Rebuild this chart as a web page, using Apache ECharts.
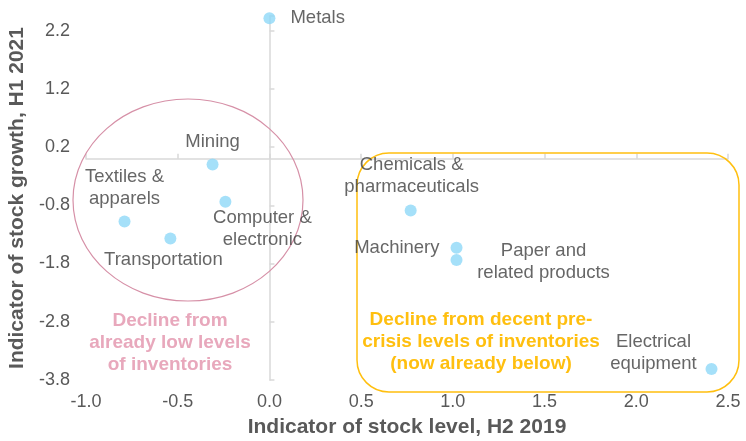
<!DOCTYPE html>
<html>
<head>
<meta charset="utf-8">
<script src="https://cdn.jsdelivr.net/npm/echarts@6/dist/echarts.min.js"></script>
<style>
  html, body { margin: 0; padding: 0; background: #fff; }
  #chart { width: 746px; height: 441px; }
</style>
</head>
<body>
<div id="chart"></div>
<script>
// sectors and their position (x: stock level H2 2019, y: stock growth H1 2021)
var sectors = ['Metals', 'Mining', 'Computer &\nelectronic', 'Textiles &\napparels', 'Transportation',
  'Chemicals &\npharmaceuticals', 'Machinery', 'Paper and\nrelated products', 'Electrical\nequipment'];
var stockLevel = [0.0, -0.31, -0.24, -0.79, -0.54, 0.77, 1.02, 1.02, 2.41];
var stockGrowth = [2.41, -0.10, -0.74, -1.08, -1.37, -0.89, -1.53, -1.74, -3.61];

var xTicks = { min: -1.0, max: 2.5, step: 0.5 };
var yTicks = { min: -3.8, max: 2.45, step: 1 };

// where each label sits relative to its dot
var labelPlace = {
  'Metals': { offset: [21, 0], align: 'left' },
  'Mining': { offset: [0, -23] },
  'Computer &\nelectronic': { offset: [37, 27] },
  'Textiles &\napparels': { offset: [0, -34] },
  'Transportation': { offset: [-7, 21] },
  'Chemicals &\npharmaceuticals': { offset: [1, -35] },
  'Machinery': { offset: [-17, 0], align: 'right' },
  'Paper and\nrelated products': { offset: [87, 2] },
  'Electrical\nequipment': { offset: [-58, -16] }
};

var grey = '#d9d9d9';
var fontFam = '"Liberation Sans", Arial, sans-serif';

var points = sectors.map(function (name, i) {
  var p = labelPlace[name];
  return {
    name: name,
    value: [stockLevel[i], stockGrowth[i]],
    label: {
      show: true,
      position: 'inside',
      offset: p.offset,
      align: p.align || 'center',
      verticalAlign: 'middle',
      formatter: '{b}'
    }
  };
});

var chart = echarts.init(document.getElementById('chart'));
chart.setOption({
  animation: false,
  textStyle: { fontFamily: fontFam },
  grid: { left: 86, right: 18, top: 16, bottom: 61, outerBoundsMode: 'none' },
  xAxis: [
    {
      type: 'value', min: xTicks.min, max: xTicks.max, interval: xTicks.step,
      name: 'Indicator of stock level, H2 2019',
      nameLocation: 'middle', nameGap: 37,
      nameTextStyle: { fontSize: 21, fontWeight: 'bold', color: '#595959', fontFamily: fontFam },
      axisLine: { show: false, onZero: false },
      axisTick: { show: false },
      splitLine: { show: false },
      axisLabel: {
        margin: 13, fontSize: 18, color: '#595959', fontFamily: fontFam,
        formatter: function (v) { return v.toFixed(1); }
      }
    },
    {
      type: 'value', min: xTicks.min, max: xTicks.max, interval: xTicks.step,
      axisLine: { show: true, onZero: true, lineStyle: { color: grey, width: 1.5 } },
      axisTick: { show: true, length: 5, lineStyle: { color: grey, width: 1.5 } },
      axisLabel: { show: false },
      splitLine: { show: false }
    }
  ],
  yAxis: [
    {
      type: 'value', min: yTicks.min, max: yTicks.max, interval: yTicks.step,
      name: 'Indicator of stock growth, H1 2021',
      nameLocation: 'middle', nameGap: 57,
      nameTextStyle: { fontSize: 21, fontWeight: 'bold', color: '#595959', fontFamily: fontFam },
      axisLine: { show: false, onZero: false },
      axisTick: { show: false },
      splitLine: { show: false },
      axisLabel: {
        margin: 16, fontSize: 18, color: '#595959', fontFamily: fontFam,
        showMaxLabel: false,
        formatter: function (v) { return v.toFixed(1); }
      }
    },
    {
      type: 'value', min: yTicks.min, max: yTicks.max, interval: yTicks.step,
      axisLine: { show: true, onZero: true, lineStyle: { color: grey, width: 1.5 } },
      axisTick: { show: true, length: 5, lineStyle: { color: grey, width: 1.5 } },
      axisLabel: { show: false },
      splitLine: { show: false }
    }
  ],
  series: [{
    type: 'scatter',
    xAxisIndex: 0,
    yAxisIndex: 0,
    symbolSize: 12,
    itemStyle: { color: '#8fd8f8' },
    label: {
      color: '#404040', fontSize: 18.5, lineHeight: 22, fontFamily: fontFam
    },
    data: points,
    z: 5
  }],
  graphic: [
    {
      type: 'ellipse',
      shape: { cx: 188, cy: 200, rx: 115, ry: 101 },
      style: { fill: 'none', stroke: '#d690a7', lineWidth: 1.2 },
      z: 1
    },
    {
      type: 'text',
      x: 170, y: 342.5,
      style: {
        text: 'Decline from\nalready low levels\nof inventories',
        fill: '#e8a8bc', font: 'bold 19px ' + fontFam,
        lineHeight: 22, align: 'center', verticalAlign: 'middle'
      }
    },
    {
      type: 'rect',
      shape: { x: 357, y: 153, width: 382, height: 239, r: 32 },
      style: { fill: 'none', stroke: '#ffbf0f', lineWidth: 1.5 },
      z: 1
    },
    {
      type: 'text',
      x: 481, y: 341.5,
      style: {
        text: 'Decline from decent pre-\ncrisis levels of inventories\n(now already below)',
        fill: '#ffbf0f', font: 'bold 19px ' + fontFam,
        lineHeight: 22, align: 'center', verticalAlign: 'middle'
      }
    }
  ]
});
</script>
</body>
</html>
